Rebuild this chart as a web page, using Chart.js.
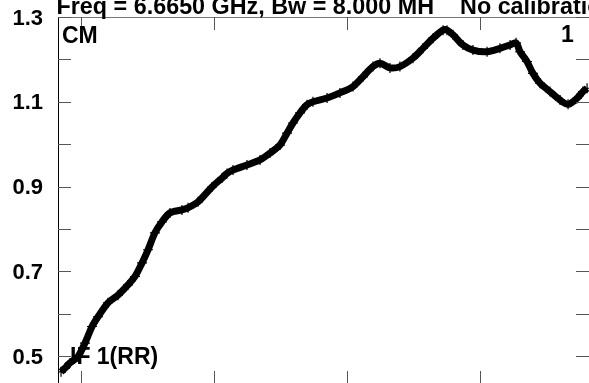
<!DOCTYPE html>
<html><head><meta charset="utf-8">
<script src="https://cdn.jsdelivr.net/npm/chart.js@4/dist/chart.umd.min.js"></script>
<style>html,body{margin:0;padding:0;overflow:hidden;background:#fff;width:589px;height:383px}canvas{display:block}</style>
</head><body>
<canvas id="c" width="600" height="400" style="width:600px;height:400px"></canvas>
<script>
// Channel axis (arbitrary units, major ticks at 0..3)
const xValues = [-0.150,-0.120,-0.083,-0.023,0.030,0.083,0.128,0.203,0.278,0.353,0.406,0.459,0.504,0.556,0.609,0.669,0.759,0.805,0.880,0.985,1.060,1.098,1.143,1.248,1.346,1.421,1.496,1.549,1.594,1.647,1.699,1.744,1.850,1.947,2.045,2.120,2.195,2.248,2.323,2.398,2.496,2.571,2.647,2.722,2.752,2.797,2.872,2.947,3.053,3.150,3.226,3.271,3.301,3.353,3.398,3.451,3.526,3.602,3.662,3.729,3.774,3.805];
const yValues = [0.463,0.472,0.484,0.499,0.531,0.570,0.593,0.626,0.644,0.668,0.688,0.720,0.751,0.791,0.817,0.838,0.845,0.850,0.864,0.899,0.920,0.931,0.939,0.951,0.963,0.979,0.998,1.026,1.050,1.074,1.093,1.100,1.109,1.121,1.136,1.159,1.183,1.191,1.180,1.183,1.203,1.226,1.250,1.269,1.269,1.258,1.234,1.222,1.218,1.226,1.234,1.239,1.218,1.195,1.167,1.144,1.124,1.104,1.094,1.108,1.124,1.132];
const yTickValues = [0.5,0.6,0.7,0.8,0.9,1.0,1.1,1.2,1.3];
const yTickLabels = ['0.5','0.7','0.9','1.1','1.3'];
const xTickValues = [0,1,2,3,4];
const titleText = 'Freq = 6.6650 GHz, Bw = 8.000 MH    No calibration';
const cornerLabels = {topLeft:'CM', topRight:'1', bottomLeft:'IF 1(RR)'};

const points = xValues.map((x,i)=>({x:x,y:yValues[i]}));
const FONT = '"Liberation Sans", Arial, sans-serif';

const deco = {
  id:'deco',
  afterDatasetsDraw(chart){
    const ctx = chart.ctx, a = chart.chartArea;
    const xs = chart.scales.x, ys = chart.scales.y;
    ctx.save();
    // frame
    ctx.lineWidth = 1;
    ctx.strokeStyle = '#777';
    ctx.beginPath(); ctx.moveTo(a.left, a.top+0.5); ctx.lineTo(a.right, a.top+0.5); ctx.stroke();
    ctx.strokeStyle = '#000';
    ctx.beginPath(); ctx.moveTo(a.left+0.5, a.top); ctx.lineTo(a.left+0.5, a.bottom); ctx.stroke();
    ctx.beginPath(); ctx.moveTo(a.left, a.bottom-0.5); ctx.lineTo(a.right, a.bottom-0.5); ctx.stroke();
    // y ticks (inward, both sides)
    ctx.strokeStyle = '#555';
    yTickValues.forEach(v=>{
      const py = Math.round(ys.getPixelForValue(v))+0.5;
      ctx.beginPath(); ctx.moveTo(a.left, py); ctx.lineTo(a.left+13, py); ctx.stroke();
      ctx.beginPath(); ctx.moveTo(a.right-14, py); ctx.lineTo(a.right, py); ctx.stroke();
    });
    // x ticks (inward, top and bottom)
    xTickValues.forEach(v=>{
      const px = Math.round(xs.getPixelForValue(v))+0.5;
      ctx.beginPath(); ctx.moveTo(px, a.top); ctx.lineTo(px, a.top+13); ctx.stroke();
      ctx.beginPath(); ctx.moveTo(px, a.bottom); ctx.lineTo(px, a.bottom-13); ctx.stroke();
    });
    // y labels
    ctx.fillStyle = '#000';
    ctx.font = 'bold 22px ' + FONT;
    ctx.textAlign = 'right'; ctx.textBaseline = 'middle';
    yTickLabels.forEach(t=>{
      const py = ys.getPixelForValue(parseFloat(t));
      ctx.fillText(t, a.left-15, py+1.5);
    });
    // title
    ctx.font = 'bold 23px ' + FONT;
    ctx.textAlign = 'left'; ctx.textBaseline = 'alphabetic';
    ctx.save();
    ctx.translate(a.left-1.5, a.top-3);
    ctx.scale(1.015, 1);
    ctx.fillText(titleText, 0, 0);
    ctx.restore();
    // corner labels
    ctx.fillText(cornerLabels.topLeft, a.left+4, a.top+26);
    ctx.fillText(cornerLabels.topRight, a.right-29, a.top+25);
    ctx.fillText(cornerLabels.bottomLeft, a.left+12, a.bottom-20);
    ctx.restore();
  }
};

new Chart(document.getElementById('c'), {
  type:'line',
  data:{datasets:[{
    data:points,
    borderColor:'#000',
    backgroundColor:'#000',
    borderWidth:7,
    tension:0.3,
    pointStyle:'cross',
    pointRadius:5,
    pointBorderWidth:1.2,
    pointBorderColor:'#000',
    fill:false
  }]},
  options:{
    responsive:false,
    animation:false,
    devicePixelRatio:1,
    layout:{padding:{left:58,top:17,right:10,bottom:16}},
    plugins:{legend:{display:false},tooltip:{enabled:false},title:{display:false}},
    scales:{
      x:{type:'linear',display:false,min:-0.1729,max:3.827},
      y:{type:'linear',display:false,min:0.4344,max:1.3}
    }
  },
  plugins:[deco]
});
</script>
</body></html>
